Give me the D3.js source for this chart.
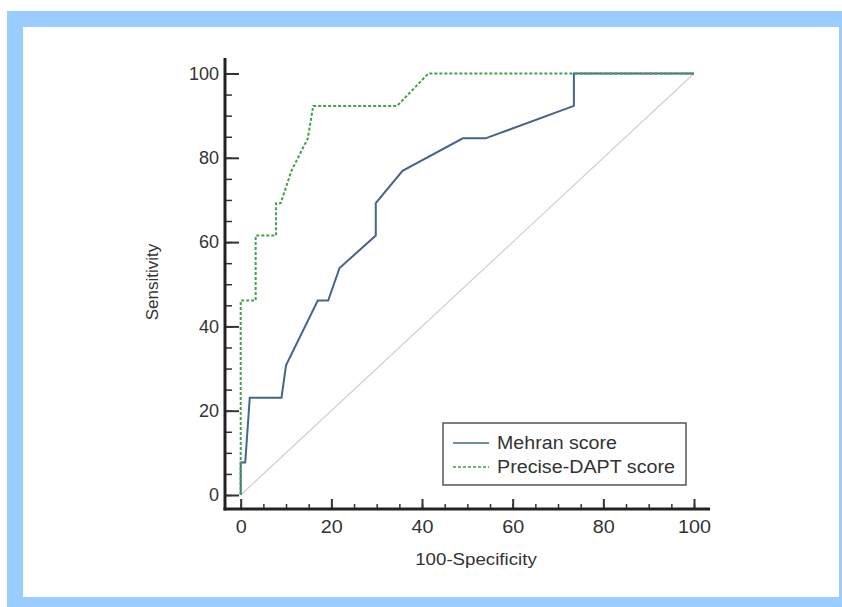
<!DOCTYPE html>
<html>
<head>
<meta charset="utf-8">
<script src="https://cdn.jsdelivr.net/npm/d3@7"></script>
<style>
  body { margin: 0; background: #fff; }
  text { font-family: "Liberation Sans", Arial, sans-serif; fill: #333; }
  .wide { transform-box: fill-box; transform-origin: center; transform: scaleX(1.1); }
</style>
</head>
<body>
<svg id="chart" width="842" height="607"></svg>
<script>
// ROC curve points (100-Specificity, Sensitivity)
const mehranX = [0, 0, 1, 2, 9, 10, 17, 19.3, 21.8, 29.8, 29.8, 35.7, 49, 54, 73.5, 73.5, 100];
const mehranY = [0, 7.69, 7.69, 23.08, 23.08, 30.77, 46.15, 46.15, 53.85, 61.54, 69.23, 76.92, 84.62, 84.62, 92.31, 100, 100];
const preciseX = [0, 0, 3.3, 3.3, 7.8, 7.8, 8.8, 11.2, 14.8, 16, 34.5, 41.4, 100];
const preciseY = [0, 46.15, 46.15, 61.54, 61.54, 69.23, 69.23, 76.92, 84.62, 92.31, 92.31, 100, 100];
const refX = [0, 100];
const refY = [0, 100];
const majorTicks = [0, 20, 40, 60, 80, 100];
const minorTicks = d3.range(0, 101, 5);
const seriesNames = ["Mehran score", "Precise-DAPT score"];

const svg = d3.select("svg#chart");

// frame
svg.append("rect").attr("x", 7).attr("y", 11).attr("width", 835).attr("height", 596).attr("fill", "#99ccff");
svg.append("rect").attr("x", 23).attr("y", 27).attr("width", 816).attr("height", 570).attr("fill", "#fff");

const x = d3.scaleLinear().domain([0, 100]).range([240.7, 694]);
const y = d3.scaleLinear().domain([0, 100]).range([495, 73.5]);
const axisX = 225, axisY = 509;

// minor ticks
svg.append("g").attr("transform", `translate(${axisX},0)`)
    .call(d3.axisLeft(y).tickValues(minorTicks).tickSize(-7).tickFormat(""))
    .call(g => g.select(".domain").remove())
    .selectAll("line").attr("stroke", "#333").attr("stroke-width", 1.5);
svg.append("g").attr("transform", `translate(0,${axisY})`)
    .call(d3.axisBottom(x).tickValues(minorTicks).tickSize(-5).tickFormat(""))
    .call(g => g.select(".domain").remove())
    .selectAll("line").attr("stroke", "#333").attr("stroke-width", 1.5);

// major ticks + labels
const yAxis = svg.append("g").attr("transform", `translate(${axisX},0)`)
    .call(d3.axisLeft(y).tickValues(majorTicks).tickSize(-14).tickPadding(6));
yAxis.select(".domain").remove();
yAxis.selectAll("line").attr("stroke", "#333").attr("stroke-width", 2);
yAxis.selectAll("text").attr("font-size", 18).style("fill", "#333");

const xAxis = svg.append("g").attr("transform", `translate(0,${axisY})`)
    .call(d3.axisBottom(x).tickValues(majorTicks).tickSize(-10).tickPadding(11));
xAxis.select(".domain").remove();
xAxis.selectAll("line").attr("stroke", "#333").attr("stroke-width", 2);
xAxis.selectAll("text").attr("font-size", 18).style("fill", "#333").classed("wide", true);

// axis lines
svg.append("line").attr("x1", axisX).attr("x2", axisX).attr("y1", 58).attr("y2", axisY + 1.5)
    .attr("stroke", "#222").attr("stroke-width", 3);
svg.append("line").attr("x1", axisX - 1.5).attr("x2", 710).attr("y1", axisY).attr("y2", axisY)
    .attr("stroke", "#222").attr("stroke-width", 3);

// titles
svg.append("text").attr("x", 476).attr("y", 565).attr("text-anchor", "middle").attr("class", "wide")
    .attr("font-size", 17).text("100-Specificity");
svg.append("text").attr("transform", "translate(158,282) rotate(-90)").attr("text-anchor", "middle")
    .attr("font-size", 17).text("Sensitivity");

const line = d3.line().x(d => x(d[0])).y(d => y(d[1]));

// reference diagonal
svg.append("path").datum(d3.zip(refX, refY)).attr("d", line)
    .attr("fill", "none").attr("stroke", "#d8cccc").attr("stroke-width", 1.2);

svg.append("path").datum(d3.zip(mehranX, mehranY)).attr("d", line)
    .attr("fill", "none").attr("stroke", "#46648f").attr("stroke-width", 2);
svg.append("path").datum(d3.zip(preciseX, preciseY)).attr("d", line)
    .attr("fill", "none").attr("stroke", "#43a047").attr("stroke-width", 2)
    .attr("stroke-dasharray", "3,2");

// legend
const legend = svg.append("g");
legend.append("rect").attr("x", 443).attr("y", 423).attr("width", 243).attr("height", 62)
    .attr("fill", "#fff").attr("stroke", "#555").attr("stroke-width", 1.5);
const colors = ["#46648f", "#43a047"];
const dashes = [null, "3,2"];
seriesNames.forEach((name, i) => {
    const ly = 443 + i * 24;
    legend.append("line").attr("x1", 453).attr("x2", 489).attr("y1", ly).attr("y2", ly)
        .attr("stroke", colors[i]).attr("stroke-width", 1.5).attr("stroke-dasharray", dashes[i]);
    legend.append("text").attr("x", 497).attr("y", ly + 6).attr("font-size", 18)
        .attr("textLength", i === 0 ? 120 : 178).attr("lengthAdjust", "spacingAndGlyphs").text(name);
});
</script>
</body>
</html>
